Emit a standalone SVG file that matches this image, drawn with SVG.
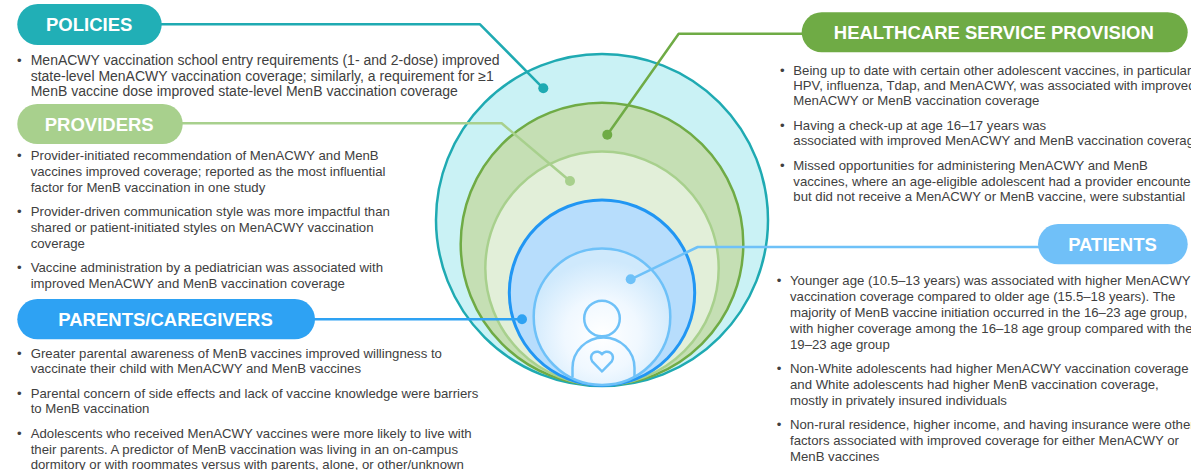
<svg xmlns="http://www.w3.org/2000/svg" width="1191" height="470" viewBox="0 0 1191 470">
<style>
.t{font-family:"Liberation Sans",Arial,sans-serif;font-size:13.2px;fill:#404040}
.tp{font-size:14px}
.h{font-family:"Liberation Sans",Arial,sans-serif;font-size:18.5px;font-weight:bold;fill:#ffffff;text-anchor:middle}
.ln{fill:none;stroke-width:2.5;stroke-linejoin:round}
</style>
<defs>
<radialGradient id="ig" cx="602" cy="335" r="75" gradientUnits="userSpaceOnUse">
<stop offset="0" stop-color="#ffffff"/>
<stop offset="0.5" stop-color="#f0f8ff"/>
<stop offset="1" stop-color="#cfe9fc"/>
</radialGradient>
</defs>
<rect width="1191" height="470" fill="#ffffff"/>
<g id="rings">
<circle cx="602" cy="220" r="166" fill="#caf2f5" stroke="#1faab2" stroke-width="2.5"/>
<circle cx="602" cy="244" r="141.3" fill="#c5dfb4" stroke="#6fab45" stroke-width="2.5"/>
<circle cx="602" cy="268.3" r="116.7" fill="#e2efd9" stroke="#a8d08d" stroke-width="2.5"/>
<circle cx="602" cy="292.7" r="92.7" fill="#b7ddfc" stroke="#2196f3" stroke-width="3"/>
<circle cx="602" cy="316.7" r="68.3" fill="url(#ig)" stroke="#6ec1f8" stroke-width="2.5"/>
<g id="person" fill="none" stroke="#6ec1f8" stroke-width="2.5" stroke-linejoin="round">
<circle cx="602" cy="318.5" r="17.8"/>
<path d="M572.5,377 L572.5,368 A31,30.5 0 0 1 634.5,368 L634.5,377"/>
<path d="M602,371.5 L592.2,361.3 A5.8,5.8 0 1 1 602,354.2 A5.8,5.8 0 1 1 611.8,361.3 Z"/>
</g>
</g>
<g id="connectors">
<path class="ln" stroke="#1faab2" d="M160,24.3 H480 L543.3,88.3"/>
<circle cx="543.3" cy="88.3" r="5" fill="#1faab2"/>
<path class="ln" stroke="#6fab45" d="M607.3,134.7 L678.7,33.7 H805"/>
<circle cx="607.3" cy="134.7" r="5" fill="#6fab45"/>
<path class="ln" stroke="#a8d08d" d="M180,123.3 H501.7 L570,181"/>
<circle cx="570" cy="181" r="5" fill="#a8d08d"/>
<path class="ln" stroke="#2ea2f3" d="M312,319.3 H522"/>
<circle cx="522" cy="319.3" r="5" fill="#2ea2f3"/>
<path class="ln" stroke="#6ec1f8" d="M630.7,279.3 L697.7,247 H1042"/>
<circle cx="630.7" cy="279.3" r="5" fill="#6ec1f8"/>
</g>
<g id="policies">
<rect x="17.3" y="4" width="144.4" height="41" rx="20.5" fill="#21afb6"/>
<text class="h" x="89.2" y="31.3">POLICIES</text>
<text class="t" x="17" y="65">•</text>
<text class="t tp" x="30.7" y="65">MenACWY vaccination school entry requirements (1- and 2-dose) improved</text>
<text class="t tp" x="30.7" y="80.5">state-level MenACWY vaccination coverage; similarly, a requirement for ≥1</text>
<text class="t tp" x="30.7" y="96">MenB vaccine dose improved state-level MenB vaccination coverage</text>
</g>
<g id="providers">
<rect x="17.3" y="104" width="165.4" height="40" rx="20" fill="#a8d08d"/>
<text class="h" x="99.2" y="130.5">PROVIDERS</text>
<text class="t" x="17" y="160">•</text>
<text class="t" x="30.7" y="160">Provider-initiated recommendation of MenACWY and MenB</text>
<text class="t" x="30.7" y="176">vaccines improved coverage; reported as the most influential</text>
<text class="t" x="30.7" y="191.5">factor for MenB vaccination in one study</text>
<text class="t" x="17" y="216">•</text>
<text class="t" x="30.7" y="216">Provider-driven communication style was more impactful than</text>
<text class="t" x="30.7" y="232">shared or patient-initiated styles on MenACWY vaccination</text>
<text class="t" x="30.7" y="247.5">coverage</text>
<text class="t" x="17" y="272">•</text>
<text class="t" x="30.7" y="272">Vaccine administration by a pediatrician was associated with</text>
<text class="t" x="30.7" y="288">improved MenACWY and MenB vaccination coverage</text>
</g>
<g id="parents">
<rect x="17.3" y="299" width="297.7" height="40.3" rx="20.15" fill="#2ea2f3"/>
<text class="h" x="165.5" y="325.5">PARENTS/CAREGIVERS</text>
<text class="t" x="17" y="358">•</text>
<text class="t" x="30.7" y="358">Greater parental awareness of MenB vaccines improved willingness to</text>
<text class="t" x="30.7" y="373">vaccinate their child with MenACWY and MenB vaccines</text>
<text class="t" x="17" y="398">•</text>
<text class="t" x="30.7" y="398">Parental concern of side effects and lack of vaccine knowledge were barriers</text>
<text class="t" x="30.7" y="413">to MenB vaccination</text>
<text class="t" x="17" y="438">•</text>
<text class="t" x="30.7" y="438">Adolescents who received MenACWY vaccines were more likely to live with</text>
<text class="t" x="30.7" y="453.5">their parents. A predictor of MenB vaccination was living in an on-campus</text>
<text class="t" x="30.7" y="469">dormitory or with roommates versus with parents, alone, or other/unknown</text>
</g>
<g id="healthcare">
<rect x="801.7" y="12.3" width="386" height="40" rx="20" fill="#6fab45"/>
<text class="h" x="993.8" y="39">HEALTHCARE SERVICE PROVISION</text>
<text class="t" x="780" y="74.5">•</text>
<text class="t" x="793.3" y="74.5">Being up to date with certain other adolescent vaccines, in particular</text>
<text class="t" x="793.3" y="90">HPV, influenza, Tdap, and MenACWY, was associated with improved</text>
<text class="t" x="793.3" y="105">MenACWY or MenB vaccination coverage</text>
<text class="t" x="780" y="129.5">•</text>
<text class="t" x="793.3" y="129.5">Having a check-up at age 16–17 years was</text>
<text class="t" x="793.3" y="144.5">associated with improved MenACWY and MenB vaccination coverage</text>
<text class="t" x="780" y="169.5">•</text>
<text class="t" x="793.3" y="169.5">Missed opportunities for administering MenACWY and MenB</text>
<text class="t" x="793.3" y="185.5">vaccines, where an age-eligible adolescent had a provider encounter</text>
<text class="t" x="793.3" y="200.5">but did not receive a MenACWY or MenB vaccine, were substantial</text>
</g>
<g id="patients">
<rect x="1038" y="224" width="149.7" height="40.3" rx="20.15" fill="#70c0f8"/>
<text class="h" x="1112.5" y="250.5">PATIENTS</text>
<text class="t" x="776.7" y="285">•</text>
<text class="t" x="790" y="285">Younger age (10.5–13 years) was associated with higher MenACWY</text>
<text class="t" x="790" y="301">vaccination coverage compared to older age (15.5–18 years). The</text>
<text class="t" x="790" y="317">majority of MenB vaccine initiation occurred in the 16–23 age group,</text>
<text class="t" x="790" y="333">with higher coverage among the 16–18 age group compared with the</text>
<text class="t" x="790" y="349">19–23 age group</text>
<text class="t" x="776.7" y="373">•</text>
<text class="t" x="790" y="373">Non-White adolescents had higher MenACWY vaccination coverage</text>
<text class="t" x="790" y="389">and White adolescents had higher MenB vaccination coverage,</text>
<text class="t" x="790" y="404.5">mostly in privately insured individuals</text>
<text class="t" x="776.7" y="428.5">•</text>
<text class="t" x="790" y="428.5">Non-rural residence, higher income, and having insurance were other</text>
<text class="t" x="790" y="444.5">factors associated with improved coverage for either MenACWY or</text>
<text class="t" x="790" y="460.5">MenB vaccines</text>
</g>
</svg>
